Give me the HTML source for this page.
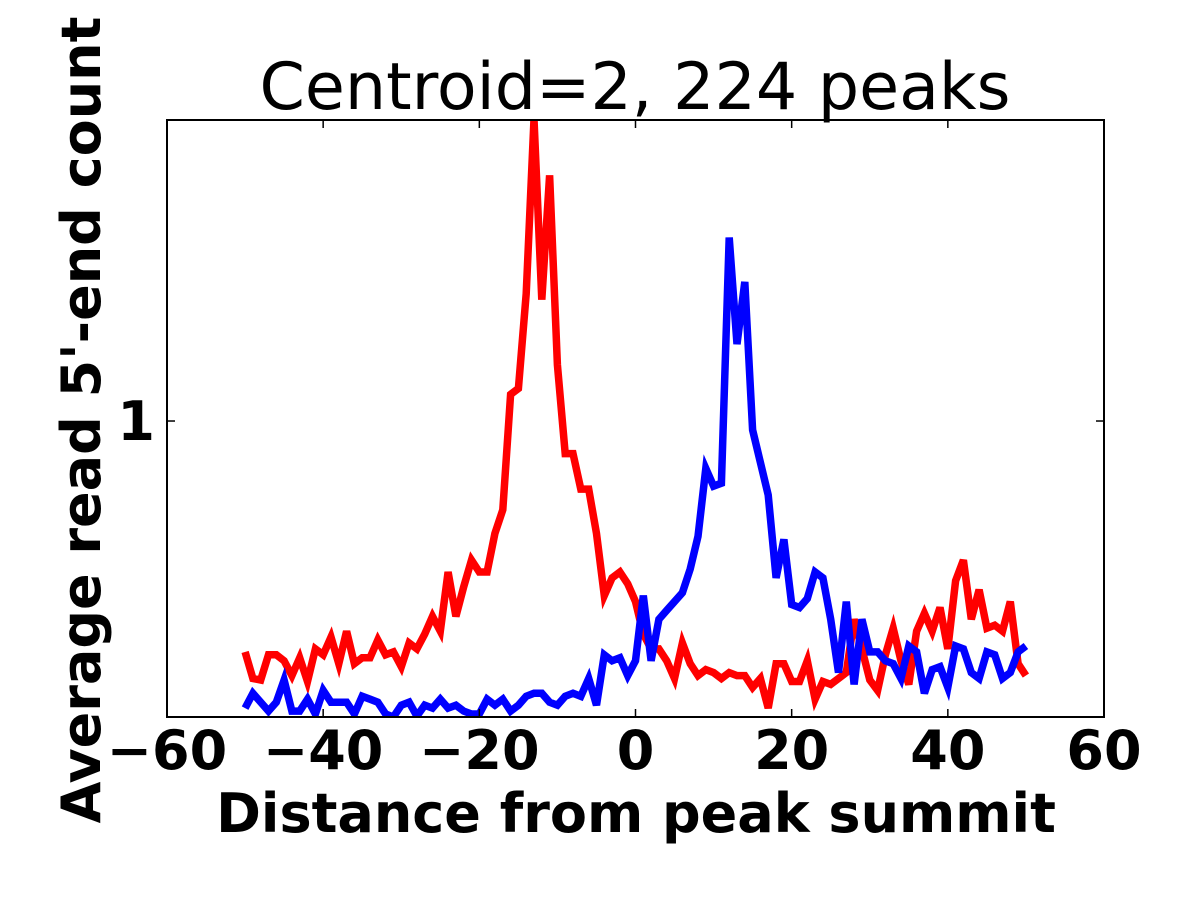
<!DOCTYPE html>
<html><head><meta charset="utf-8"><style>
html,body{margin:0;padding:0;background:#fff;}
svg{display:block;font-family:"DejaVu Sans","Liberation Sans",sans-serif;}
</style></head><body>
<svg id="chart" width="1200" height="900" viewBox="0 0 1200 900" xmlns="http://www.w3.org/2000/svg">
<defs><clipPath id="pc"><rect x="167" y="120" width="937" height="597"/></clipPath></defs>
<rect width="1200" height="900" fill="#fff"/>
<text x="635" y="109" font-size="65" text-anchor="middle">Centroid=2, 224 peaks</text>
<g id="marks" clip-path="url(#pc)"></g>
<rect x="167" y="120" width="937" height="597" fill="none" stroke="#000" stroke-width="2"/>
<g id="ticks"></g>
<text x="636" y="832" font-size="54" font-weight="bold" text-anchor="middle">Distance from peak summit</text>
<text transform="translate(100,420) rotate(-90)" font-size="54" font-weight="bold" text-anchor="middle">Average read 5'-end count</text>
</svg>
<script>
const xStart = -50;
const redValues = [0.22,0.13,0.125,0.21,0.21,0.19,0.14,0.20,0.12,0.23,0.21,0.27,0.18,0.29,0.18,0.20,0.20,0.26,0.21,0.22,0.17,0.25,0.23,0.28,0.34,0.29,0.49,0.34,0.44,0.53,0.49,0.49,0.62,0.70,1.09,1.11,1.43,2.02,1.41,1.83,1.19,0.89,0.89,0.77,0.77,0.62,0.41,0.47,0.49,0.45,
0.39,0.28,0.23,0.23,0.19,0.13,0.25,0.18,0.14,0.16,0.15,0.13,0.15,0.14,0.14,0.10,0.13,0.03,0.18,0.18,0.12,0.12,0.19,0.06,0.12,0.11,0.13,
0.15,0.33,0.23,0.125,0.09,0.21,0.30,0.19,0.11,0.29,0.35,0.29,0.37,0.23,0.46,0.53,0.33,0.43,0.30,0.31,0.29,0.39,0.18,0.14];
const blueValues = [0.03,0.08,0.05,0.02,0.05,0.125,0.02,0.02,0.06,0.01,0.09,0.05,0.05,0.05,0.01,0.07,0.06,0.05,0.01,0.0,0.04,0.05,0.003,0.04,0.03,0.06,0.03,0.04,0.02,0.01,0.01,0.06,0.04,0.06,0.02,0.04,0.07,0.08,0.08,0.05,0.04,0.07,0.08,0.07,0.13,0.04,0.21,0.19,0.20,0.14,
0.19,0.41,0.19,0.33,0.36,0.39,0.42,0.50,0.61,0.84,0.78,0.79,1.62,1.26,1.47,0.97,0.86,0.75,0.47,0.60,0.38,0.37,0.40,0.49,0.47,0.33,0.15,
0.39,0.11,0.33,0.22,0.22,0.19,0.18,0.13,0.24,0.22,0.08,0.16,0.17,0.10,0.24,0.23,0.15,0.13,0.22,0.21,0.13,0.15,0.22,0.24];
const xTicks = [-60,-40,-20,0,20,40,60];
const xTickLabels = ["\u221260","\u221240","\u221220","0","20","40","60"];
const yTicks = [1];
const yTickLabels = ["1"];
const X0=167,X1=1104,Y0=120,Y1=717, xMin=-60,xMax=60,yMin=0,yMax=2.017;
const NS="http://www.w3.org/2000/svg";
function sx(v){return X0+(v-xMin)/(xMax-xMin)*(X1-X0);}
function sy(v){return Y1-(v-yMin)/(yMax-yMin)*(Y1-Y0);}
function mk(tag,attrs,parent){const e=document.createElementNS(NS,tag);for(const k in attrs)e.setAttribute(k,attrs[k]);parent.appendChild(e);return e;}
const marks=document.getElementById('marks');
function series(vals,color,name){
  const pts=vals.map((v,i)=>sx(xStart+i).toFixed(1)+","+sy(v).toFixed(1)).join(" ");
  const p=mk('polyline',{points:pts,fill:'none',stroke:color,'stroke-width':7.5,'stroke-linejoin':'miter','stroke-miterlimit':4},marks);
  
  
}
series(redValues,'#ff0000','red-series-line');
series(blueValues,'#0000ff','blue-series-line');
const tk=document.getElementById('ticks');
xTicks.forEach((t,i)=>{
  const x=sx(t);
  mk('line',{x1:x,x2:x,y1:Y1,y2:Y1-8,stroke:'#000','stroke-width':1.5},tk);
  mk('line',{x1:x,x2:x,y1:Y0,y2:Y0+8,stroke:'#000','stroke-width':1.5},tk);
  const l=mk('text',{x:x,y:Y1+52,'font-size':54,'font-weight':'bold','text-anchor':'middle'},tk);
  l.textContent=xTickLabels[i];
  
  
});
yTicks.forEach((t,i)=>{
  const y=sy(t);
  mk('line',{x1:X0,x2:X0+8,y1:y,y2:y,stroke:'#000','stroke-width':1.5},tk);
  mk('line',{x1:X1,x2:X1-8,y1:y,y2:y,stroke:'#000','stroke-width':1.5},tk);
  const l=mk('text',{x:X0-12,y:y+19,'font-size':54,'font-weight':'bold','text-anchor':'end'},tk);
  l.textContent=yTickLabels[i];
  
  
});
</script>
</body></html>
